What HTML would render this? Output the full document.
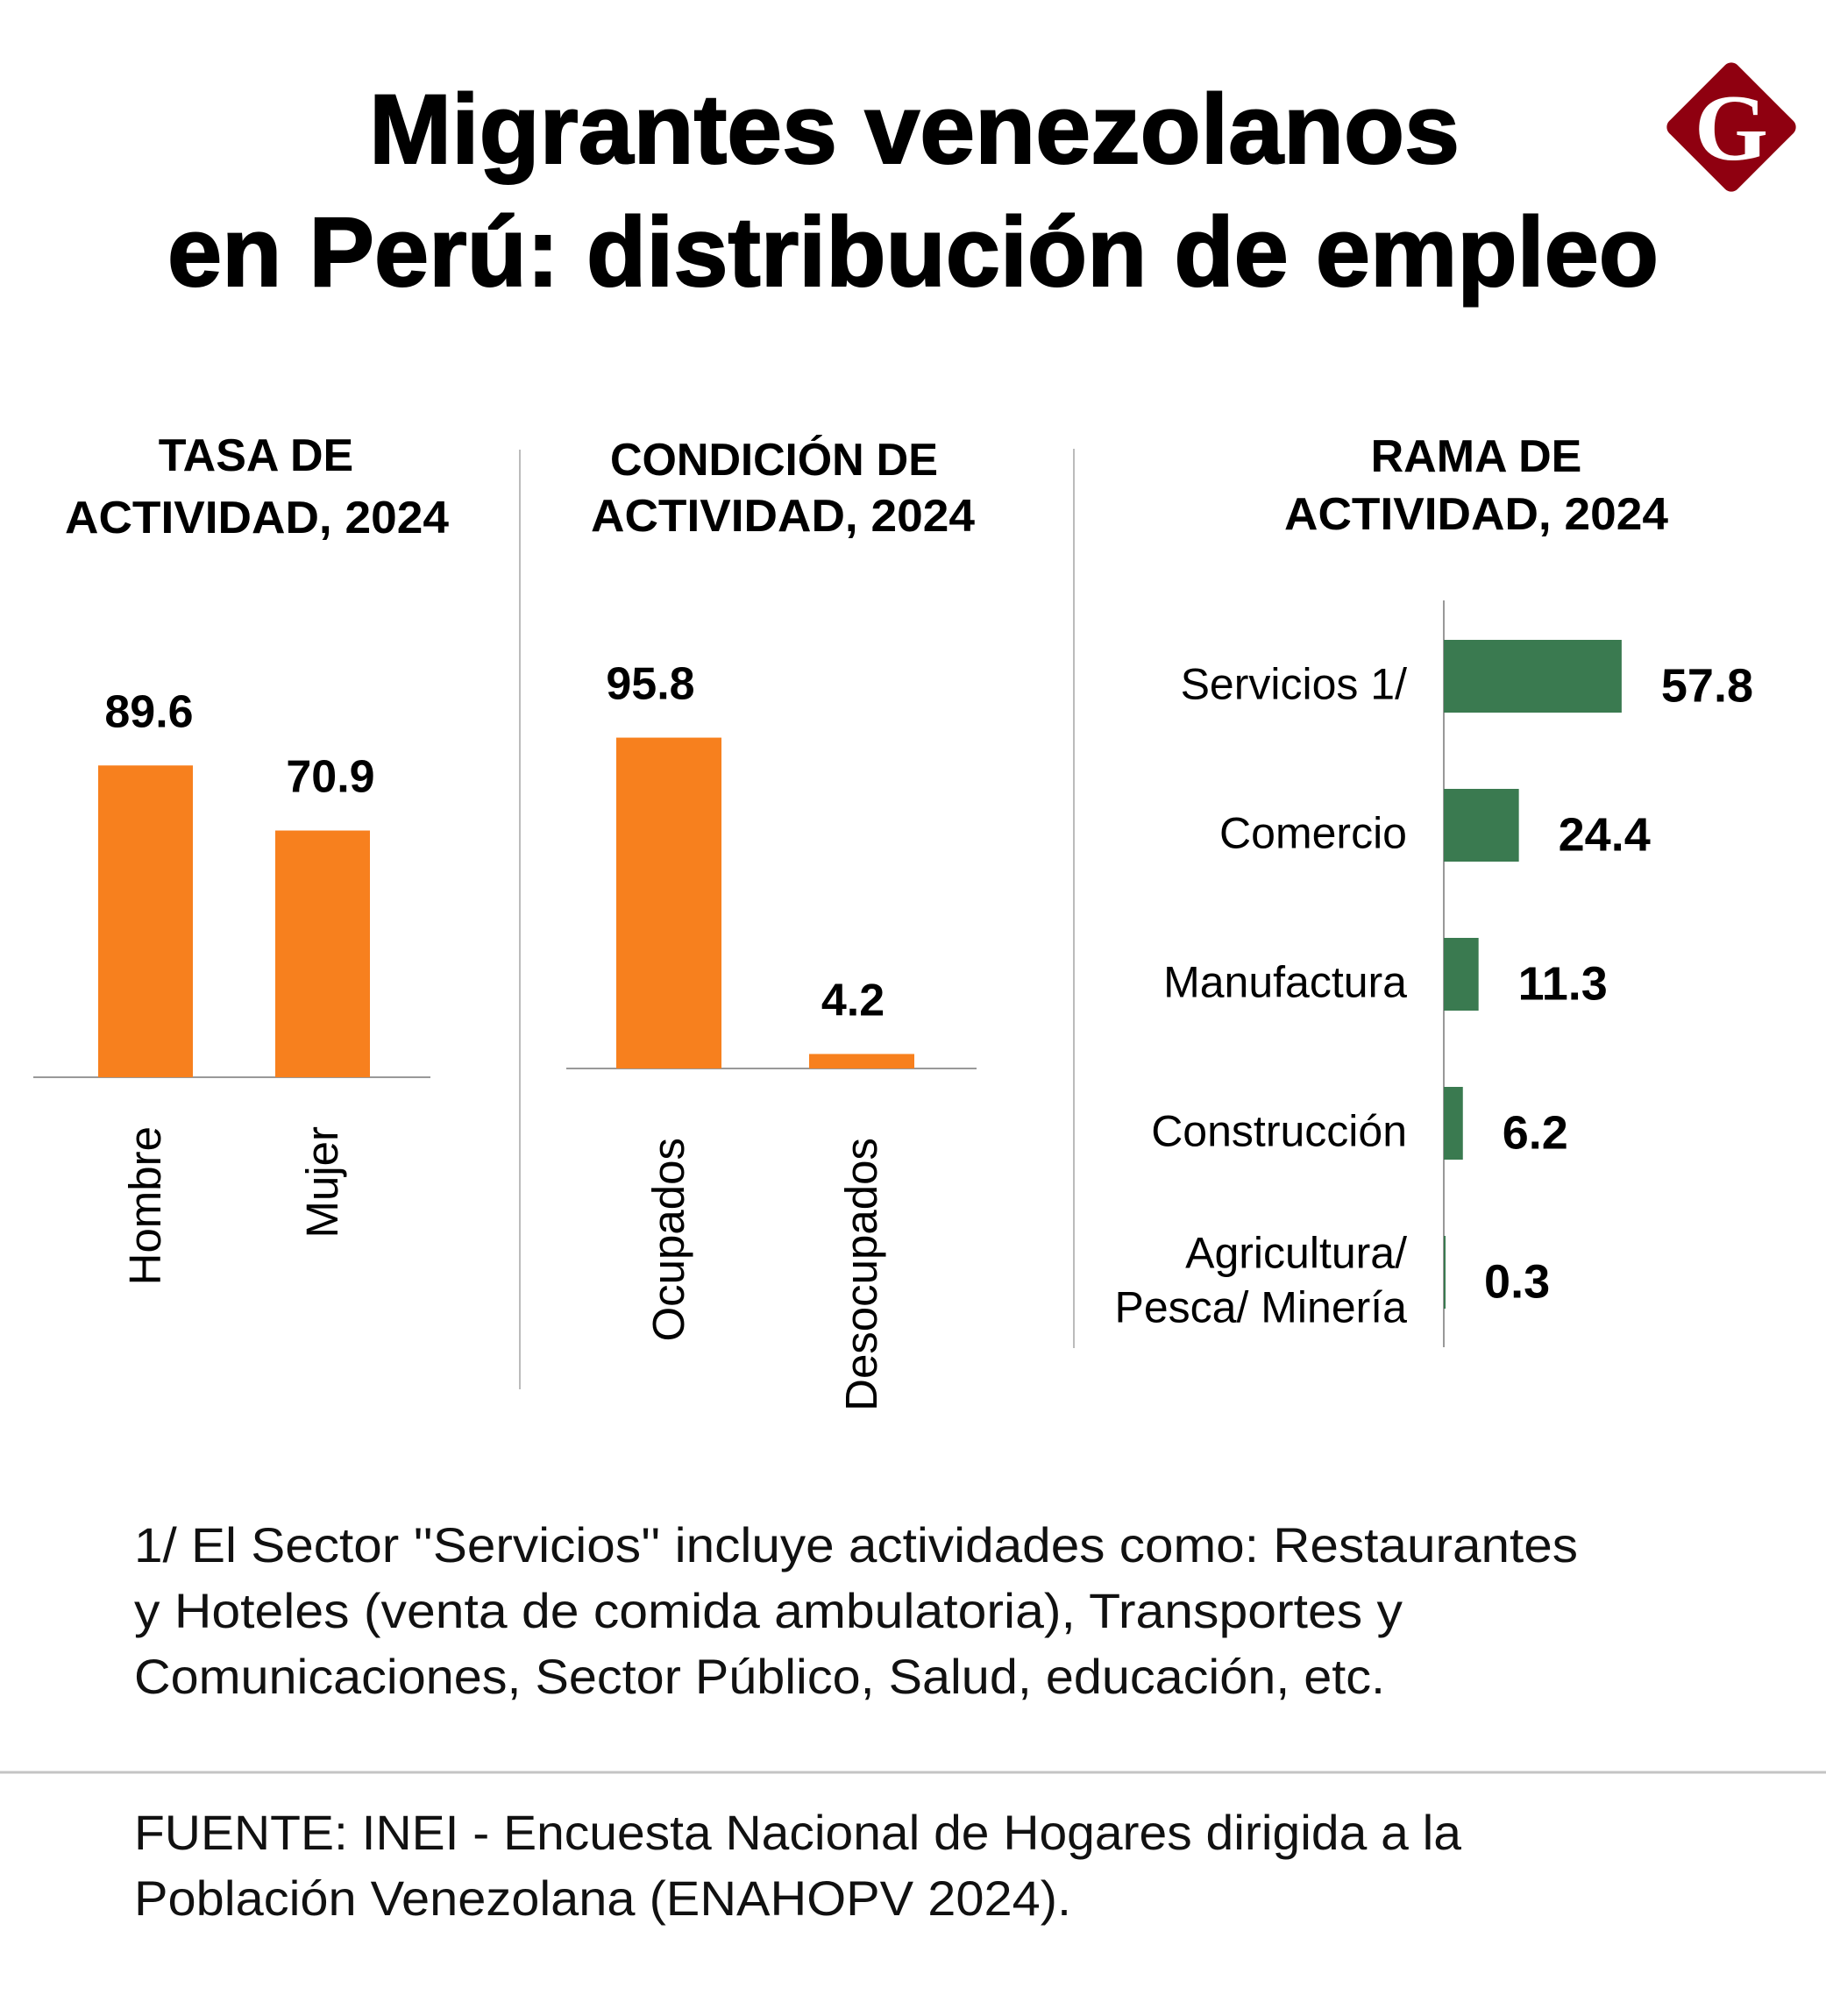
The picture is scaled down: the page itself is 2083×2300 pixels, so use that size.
<!DOCTYPE html>
<html><head><meta charset="utf-8"><style>
html,body{margin:0;padding:0;background:#fff;}
svg{display:block;font-family:"Liberation Sans",sans-serif;}
</style></head><body>
<svg id="root" width="2083" height="2300" viewBox="0 0 2083 2300" xmlns="http://www.w3.org/2000/svg">
<rect width="2083" height="2300" fill="#fff"/>
<g font-weight="bold" font-size="112" fill="#000" text-anchor="start" stroke="#000" stroke-width="2">
<text x="421" y="186" textLength="1244" lengthAdjust="spacingAndGlyphs">Migrantes venezolanos</text>
<text x="191" y="326" textLength="1701" lengthAdjust="spacingAndGlyphs">en Perú: distribución de empleo</text>
</g>
<g>
<rect x="1920" y="90" width="110" height="110" rx="10" fill="#8f0010" transform="rotate(45 1975 145)"/>
<text x="1975" y="182" text-anchor="middle" font-family="Liberation Serif,serif" font-weight="bold" font-size="108" fill="#fff">G</text>
</g>
<g font-weight="bold" font-size="52" fill="#000" text-anchor="middle">
<text x="292" y="537">TASA DE</text>
<text x="293" y="608" textLength="438" lengthAdjust="spacingAndGlyphs">ACTIVIDAD, 2024</text>
<text x="883" y="542" textLength="374" lengthAdjust="spacingAndGlyphs">CONDICIÓN DE</text>
<text x="893" y="606" textLength="438" lengthAdjust="spacingAndGlyphs">ACTIVIDAD, 2024</text>
<text x="1684" y="538">RAMA DE</text>
<text x="1684" y="604" textLength="438" lengthAdjust="spacingAndGlyphs">ACTIVIDAD, 2024</text>
</g>
<line x1="593" y1="513" x2="593" y2="1585" stroke="#bbb" stroke-width="2"/>
<line x1="1225" y1="512" x2="1225" y2="1538" stroke="#bbb" stroke-width="2"/>
<g id="c1"></g>
<g id="c2"></g>
<g id="c3"></g>
<g font-size="56" fill="#111">
<text x="153" y="1782" textLength="1647" lengthAdjust="spacingAndGlyphs">1/ El Sector ''Servicios'' incluye actividades como: Restaurantes</text>
<text x="153" y="1857" textLength="1447" lengthAdjust="spacingAndGlyphs">y Hoteles (venta de comida ambulatoria), Transportes y</text>
<text x="153" y="1932" textLength="1427" lengthAdjust="spacingAndGlyphs">Comunicaciones, Sector Público, Salud, educación, etc.</text>
</g>
<line x1="0" y1="2022" x2="2083" y2="2022" stroke="#c4c4c4" stroke-width="3"/>
<g font-size="56" fill="#111">
<text x="153" y="2110" textLength="1514" lengthAdjust="spacingAndGlyphs">FUENTE:  INEI - Encuesta Nacional de Hogares dirigida a la</text>
<text x="153" y="2185" textLength="1069" lengthAdjust="spacingAndGlyphs">Población Venezolana (ENAHOPV 2024).</text>
</g>
</svg>
<script>
const tasaCats = ["Hombre", "Mujer"];
const tasaVals = [89.6, 70.9];
const condCats = ["Ocupados", "Desocupados"];
const condVals = [95.8, 4.2];
const ramaCats = [["Servicios 1/"], ["Comercio"], ["Manufactura"], ["Construcción"], ["Agricultura/", "Pesca/ Minería"]];
const ramaVals = [57.8, 24.4, 11.3, 6.2, 0.3];

const NS = "http://www.w3.org/2000/svg";
function mk(tag, attrs, parent) {
  const e = document.createElementNS(NS, tag);
  for (const k in attrs) e.setAttribute(k, attrs[k]);
  parent.appendChild(e);
  return e;
}
function vchart(g, cats, vals, o) {
  const y = v => o.base - v * o.scale;
  mk("line", {x1: o.lx1, x2: o.lx2, y1: o.base, y2: o.base, stroke: "#999", "stroke-width": 2}, g);
  cats.forEach((c, i) => {
    const cx = o.x0 + i * o.step;
    const r = mk("rect", {x: cx - o.bw / 2, y: y(vals[i]), width: o.bw, height: o.base - y(vals[i]), fill: "#f7801e"}, g);
    
    
    const t = mk("text", {x: cx + o.lshift[i], y: y(vals[i]) - 44, "text-anchor": "middle", "font-size": 52, "font-weight": "bold"}, g);
    t.textContent = vals[i].toFixed(1);
    
    
    const l = mk("text", {x: 0, y: 0, "text-anchor": "end", "font-size": 51, transform: "translate(" + (cx + 17) + "," + o.ltop + ") rotate(-90)"}, g);
    l.textContent = c;
    
    
  });
}
vchart(document.getElementById("c1"), tasaCats, tasaVals, {base: 1229, scale: 3.97, x0: 166, step: 202, bw: 108, lx1: 38, lx2: 491, ltop: 1285, lshift: [4, 9]});
vchart(document.getElementById("c2"), condCats, condVals, {base: 1219, scale: 3.94, x0: 763, step: 220, bw: 120, lx1: 646, lx2: 1114, ltop: 1298, lshift: [-21, -10]});

(function () {
  const g = document.getElementById("c3");
  const ax = 1647, scale = 3.51, top0 = 730, pitch = 170, bh = 83;
  const x = v => ax + v * scale;
  mk("line", {x1: ax, x2: ax, y1: 685, y2: 1537, stroke: "#999", "stroke-width": 2}, g);
  ramaCats.forEach((c, i) => {
    const yt = top0 + i * pitch, cy = yt + bh / 2;
    const r = mk("rect", {x: ax, y: yt, width: Math.max(x(ramaVals[i]) - ax, 2), height: bh, fill: "#3a7a50"}, g);
    
    
    const t = mk("text", {x: x(ramaVals[i]) + 45, y: cy + 29, "font-size": 54, "font-weight": "bold"}, g);
    t.textContent = ramaVals[i].toFixed(1);
    
    
    c.forEach((line, j) => {
      const l = mk("text", {x: 1605, y: cy + 26 + (c.length > 1 ? (j - 0.5) * 62 : 0), "text-anchor": "end", "font-size": 50}, g);
      l.textContent = line;
      
      
    });
  });
})();
</script>
</body></html>
